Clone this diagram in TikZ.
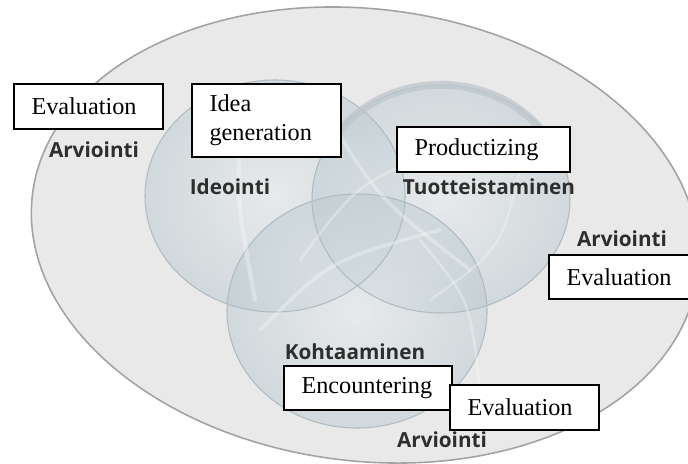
\documentclass[tikz,border=0pt]{standalone}
\usepackage{fontspec}
\setmainfont{Liberation Serif}
\newfontfamily\labelfont{Open Sans}
\definecolor{ringfill}{HTML}{E9E9E9}
\definecolor{ringline}{HTML}{A3A3A3}
\definecolor{discfill}{HTML}{BCCAD0}
\definecolor{disccore}{HTML}{E6ECEE}
\definecolor{discline}{HTML}{AFBCC1}
\definecolor{disctop}{HTML}{BDC7CB}
\definecolor{labelgray}{HTML}{2E2E2E}
\begin{document}
\begin{tikzpicture}[x=0.02cm,y=-0.02cm,
  textbox/.style={draw=black, line width=1.1pt, fill=white, rectangle,
    anchor=north west, inner ysep=0pt, inner xsep=10pt, align=left,
    font=\fontsize{13.8}{16.5}\selectfont},
  phase/.style={font=\labelfont\bfseries\fontsize{11.8}{13}\selectfont,
    text=labelgray, inner sep=0pt},
  disc/.style={inner color=disccore, outer color=discfill, fill opacity=0.5},
  discedge/.style={draw=discline, line width=0.6pt},
  streak/.style={draw=white, draw opacity=0.3, line cap=round}]
\useasboundingbox (0,0) rectangle (688,463);
\clip (0,0) rectangle (688,463);

% outer evaluation field
\fill[white] (0,0) rectangle (688,463);
\draw[fill=ringfill, draw=ringline, line width=0.9pt,
  rotate around={-7:(365,235)}]
  (365,235) ellipse [x radius=335, y radius=226];

% the three overlapping discs
\shade[disc] (275,196) ellipse [x radius=130, y radius=116];
\shade[disc] (441,199) ellipse [x radius=129, y radius=114];
\shade[disc] (357,311) ellipse [x radius=130, y radius=117];
\draw[discedge] (275,196) ellipse [x radius=130, y radius=116];
\draw[discedge] (441,199) ellipse [x radius=129, y radius=114];
\draw[discedge] (357,311) ellipse [x radius=130, y radius=117];

% rim on the upper edge of the productizing disc
\draw[disctop, line width=4.5pt, draw opacity=0.75]
  (441,199) ++(200:124) arc [start angle=200, end angle=340, x radius=124, y radius=109];

% light streaks across the glassy discs
\draw[streak, line width=2.5pt] (245,110) .. controls (235,190) .. (255,300);
\draw[streak, line width=1.5pt] (300,260) .. controls (360,180) .. (470,140);
\draw[streak, line width=2pt] (330,120) .. controls (380,200) .. (470,270);
\draw[streak, line width=1.5pt] (420,240) .. controls (470,300) .. (480,390);
\draw[streak, line width=2pt] (260,330) .. controls (330,260) .. (440,230);
\draw[streak, line width=1.2pt] (520,170) .. controls (500,250) .. (430,300);

% Finnish phase names
\node[phase] (arvL) at (94,150) {Arviointi};
\node[phase] (ideo) at (230,187) {Ideointi};
\node[phase] (tuot) at (489,187) {Tuotteistaminen};
\node[phase] (arvR) at (622,239) {Arviointi};
\node[phase] (koht) at (355,352) {Kohtaaminen};
\node[phase] (arvB) at (442,440) {Arviointi};

% English translations in boxes
\node[textbox, minimum height=25.5pt, text width=65pt] (evalL) at (13,83) {Evaluation};
\node[textbox, minimum height=41.4pt, text width=65pt] (idea) at (191,83) {Idea\\generation};
\node[textbox, minimum height=25.5pt, text width=78.6pt] (prod) at (396,126) {Productizing};
\node[textbox, minimum height=24.9pt, text width=65pt] (evalR) at (548,254) {Evaluation};
\node[textbox, minimum height=24.9pt, text width=75.8pt] (enc) at (283,365) {Encountering};
\node[textbox, minimum height=25.5pt, text width=65pt] (evalB) at (449,384) {Evaluation};
\end{tikzpicture}
\end{document}
